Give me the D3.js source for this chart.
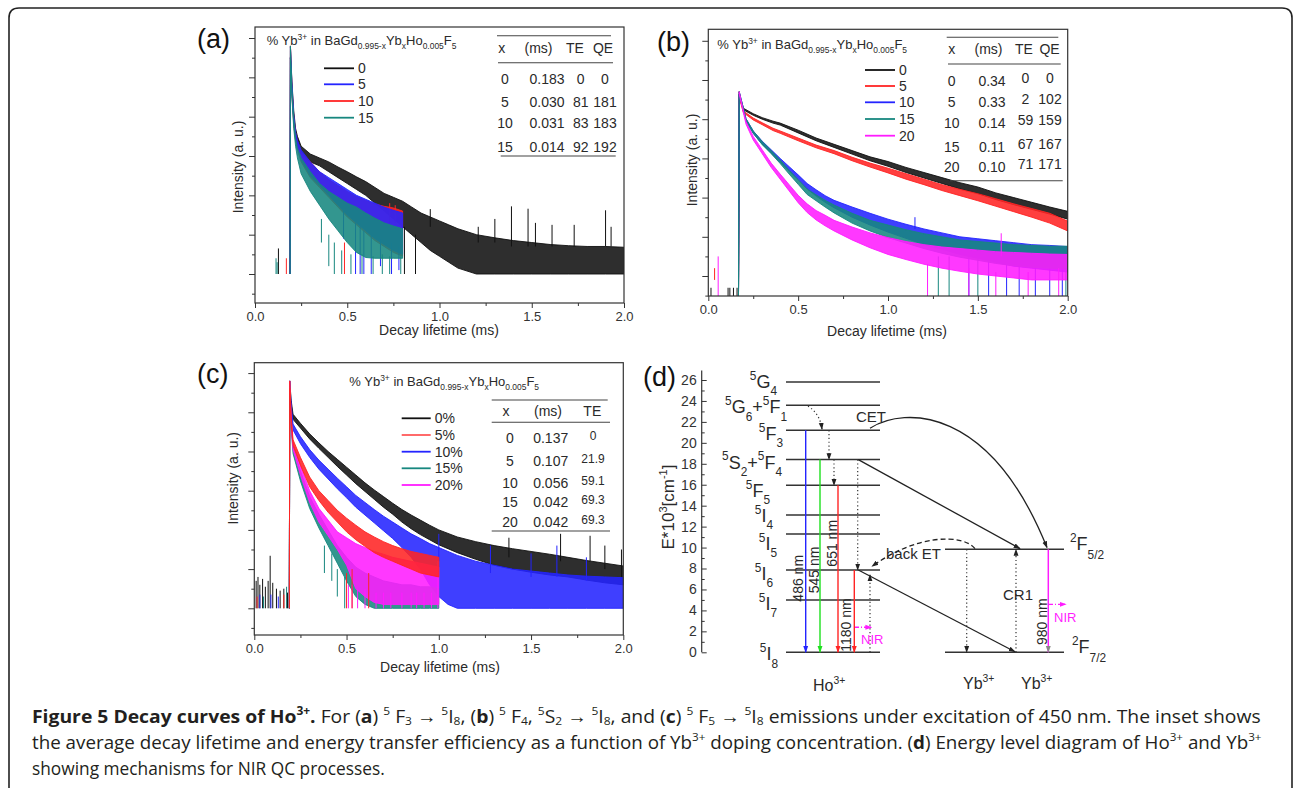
<!DOCTYPE html>
<html>
<head>
<meta charset="utf-8">
<script src="https://cdn.jsdelivr.net/npm/d3@7"></script>
<style>
  body { margin: 0; background: #fff; }
  svg { display: block; font-family: "Liberation Sans", Arial, sans-serif; }
</style>
</head>
<body>
<script>
// ---- data (t in ms, intensity as log10 counts: [t, low, high] of the noise band) ----
const xMajor = [0, 0.5, 1, 1.5, 2];
const xTickLabels = ["0.0", "0.5", "1.0", "1.5", "2.0"];
const xMinor = [0.25, 0.75, 1.25, 1.75];
const yMajor = [0, 1, 2, 3, 4, 5, 6];
const yMinor = [-0.5, 0.5, 1.5, 2.5, 3.5, 4.5, 5.5];

// panel (a)
const a0 = [[0.19,0,0],[0.192,5.5,5.78],[0.20,4.7,4.9],[0.21,3.95,4.15],[0.22,3.55,3.7],[0.23,3.3,3.5],[0.25,3.05,3.25],[0.30,2.85,3.05],[0.35,2.75,2.95],[0.40,2.6,2.85],[0.45,2.45,2.72],[0.50,2.3,2.6],[0.55,2.15,2.47],[0.60,2.0,2.35],[0.65,1.8,2.2],[0.70,1.6,2.05],[0.75,1.4,1.95],[0.80,1.2,1.85],[0.85,1.0,1.7],[0.90,0.8,1.55],[0.95,0.6,1.45],[1.00,0.45,1.35],[1.05,0.3,1.25],[1.10,0.15,1.15],[1.20,0,1.0],[1.30,0,0.92],[1.40,0,0.85],[1.50,0,0.8],[1.60,0,0.75],[1.70,0,0.72],[1.80,0,0.7],[1.90,0,0.7],[2.00,0,0.68]];
const a0Spikes = [[0.127,0,0.65],[0.81,0,1.2],[0.87,0,1.0],[0.95,1.2,1.65],[1.21,0.8,1.2],[1.30,0.8,1.4],[1.39,0.7,1.72],[1.48,0.7,1.66],[1.52,0.7,1.3],[1.61,0.7,1.25],[1.73,0.7,1.25],[1.90,0.7,1.62],[1.93,0.7,1.2]];
const a5 = [[0.19,0,0],[0.192,5.5,5.78],[0.20,4.6,4.85],[0.21,3.85,4.05],[0.22,3.45,3.6],[0.23,3.2,3.4],[0.25,2.9,3.15],[0.30,2.5,2.85],[0.35,2.25,2.6],[0.40,2.0,2.45],[0.45,1.75,2.3],[0.50,1.5,2.15],[0.55,1.3,2.0],[0.60,1.1,1.9],[0.65,0.9,1.8],[0.70,0.75,1.7],[0.75,0.6,1.62],[0.80,0.5,1.55]];
const a5Spikes = [[0.48,0.9,1.6],[0.545,0,1.3],[0.57,0,1.2],[0.59,0,1.1],[0.63,0,1.0],[0.68,0.2,0.9],[0.74,0,0.8],[0.78,0.1,0.7]];
const a10 = [[0.19,0,0],[0.192,5.5,5.8],[0.20,4.55,4.8],[0.21,3.8,4.0],[0.22,3.4,3.58],[0.23,3.15,3.35],[0.25,2.85,3.1],[0.30,2.45,2.85],[0.35,2.2,2.6],[0.40,1.95,2.4],[0.45,1.7,2.25],[0.50,1.45,2.1],[0.55,1.25,1.97],[0.60,1.05,1.87],[0.65,0.85,1.78],[0.70,0.7,1.72],[0.75,0.55,1.68],[0.80,0.45,1.6]];
const a10Spikes = [[0.17,0,0.4],[0.485,0,0.8],[0.73,1.2,1.8],[0.76,1.3,1.75]];
const a15 = [[0.19,0,0],[0.192,5.5,5.8],[0.20,4.5,4.75],[0.21,3.7,3.95],[0.22,3.25,3.45],[0.23,2.95,3.2],[0.25,2.55,2.95],[0.30,2.1,2.6],[0.35,1.75,2.3],[0.40,1.4,2.1],[0.45,1.1,1.95],[0.50,0.8,1.8],[0.55,0.55,1.7],[0.60,0.42,1.55],[0.65,0.4,1.42],[0.70,0.4,1.3],[0.75,0.4,1.22],[0.80,0.4,1.15]];
const a15Spikes = [[0.114,0,0.4],[0.12,0,0.3],[0.36,0.8,1.4],[0.40,0.2,1.0],[0.43,0,0.8],[0.47,0,0.6],[0.52,0,0.5],[0.58,0,0.5],[0.64,0,0.45],[0.69,0,0.5],[0.73,0,0.45],[0.79,0,0.45]];

// panel (b)
const b0 = [[0.168,-0.55,-0.55],[0.172,4.64,4.7],[0.18,4.47,4.52],[0.195,4.24,4.28],[0.25,4.1,4.14],[0.30,4.0,4.04],[0.36,3.9,3.95],[0.40,3.85,3.9],[0.50,3.65,3.72],[0.60,3.45,3.52],[0.70,3.28,3.36],[0.80,3.11,3.2],[0.90,2.94,3.04],[1.00,2.8,2.92],[1.10,2.64,2.77],[1.20,2.5,2.64],[1.30,2.36,2.51],[1.40,2.22,2.38],[1.50,2.1,2.27],[1.60,1.95,2.12],[1.70,1.82,2.0],[1.80,1.7,1.88],[1.90,1.58,1.76],[2.00,1.45,1.65]];
const b0Spikes = [[0.11,-0.55,-0.3],[0.12,-0.55,-0.3],[0.14,-0.55,-0.3],[0.16,-0.55,-0.3],[0.015,-0.55,-0.3]];
const b5 = [[0.168,-0.55,-0.55],[0.172,4.64,4.7],[0.18,4.42,4.47],[0.195,4.17,4.21],[0.25,3.98,4.03],[0.30,3.86,3.91],[0.36,3.71,3.77],[0.40,3.64,3.7],[0.50,3.45,3.52],[0.60,3.27,3.34],[0.70,3.12,3.2],[0.80,2.94,3.03],[0.90,2.78,2.88],[1.00,2.63,2.75],[1.10,2.47,2.61],[1.20,2.33,2.47],[1.30,2.18,2.33],[1.40,2.05,2.21],[1.50,1.92,2.1],[1.60,1.78,1.97],[1.70,1.64,1.84],[1.80,1.5,1.72],[1.90,1.35,1.6],[2.00,1.15,1.4]];
const b5Spikes = [[0.035,-0.1,0.2]];
const b10 = [[0.168,-0.55,-0.55],[0.172,4.64,4.7],[0.19,4.32,4.38],[0.21,3.95,4.01],[0.25,3.64,3.7],[0.30,3.36,3.44],[0.35,3.14,3.22],[0.40,2.9,3.0],[0.45,2.68,2.79],[0.50,2.46,2.58],[0.55,2.22,2.36],[0.60,2.04,2.2],[0.65,1.88,2.05],[0.70,1.74,1.93],[0.80,1.5,1.76],[0.90,1.3,1.6],[1.00,1.12,1.45],[1.10,0.96,1.32],[1.20,0.8,1.2],[1.30,0.68,1.1],[1.40,0.55,1.0],[1.50,0.45,0.95],[1.60,0.35,0.9],[1.70,0.25,0.85],[1.80,0.2,0.8],[1.90,0.15,0.78],[2.00,0.1,0.75]];
const b10Spikes = [[1.15,1.2,1.5],[1.45,-0.55,0.5],[1.56,-0.55,0.4],[1.66,-0.55,0.3],[1.73,-0.55,0.3],[1.82,-0.55,0.3],[1.9,-0.55,0.2],[1.97,-0.55,0.2]];
const b15 = [[0.168,-0.55,-0.55],[0.172,4.64,4.7],[0.19,4.32,4.38],[0.21,3.95,4.01],[0.25,3.64,3.7],[0.30,3.35,3.43],[0.35,3.12,3.2],[0.40,2.87,2.96],[0.45,2.6,2.7],[0.50,2.34,2.46],[0.55,2.08,2.22],[0.60,1.92,2.07],[0.65,1.76,1.93],[0.70,1.61,1.81],[0.80,1.35,1.6],[0.90,1.15,1.42],[1.00,0.98,1.3],[1.10,0.84,1.18],[1.20,0.7,1.08],[1.30,0.58,1.0],[1.40,0.48,0.92],[1.50,0.4,0.88],[1.60,0.32,0.84],[1.70,0.26,0.8],[1.80,0.22,0.78],[1.90,0.2,0.76],[2.00,0.18,0.76]];
const b15Spikes = [[1.28,-0.55,0.5],[1.34,-0.55,0.5],[1.5,-0.55,0.45],[1.99,-0.55,0.5]];
const b20 = [[0.172,4.64,4.7],[0.19,4.27,4.33],[0.21,3.87,3.94],[0.25,3.47,3.56],[0.30,3.12,3.22],[0.35,2.77,2.88],[0.40,2.47,2.6],[0.45,2.17,2.33],[0.50,1.87,2.06],[0.55,1.62,1.84],[0.60,1.43,1.67],[0.65,1.28,1.55],[0.70,1.15,1.42],[0.80,0.92,1.25],[0.90,0.72,1.1],[1.00,0.55,0.98],[1.10,0.42,0.88],[1.20,0.3,0.8],[1.30,0.2,0.74],[1.40,0.12,0.7],[1.50,0.05,0.66],[1.60,0.0,0.62],[1.70,-0.05,0.6],[1.80,-0.1,0.58],[1.90,-0.1,0.56],[2.00,-0.1,0.55]];
const b20Spikes = [[0.055,-0.55,0.5],[1.22,-0.55,0.3],[1.45,-0.55,0.2],[1.6,-0.55,0.1],[1.63,0.5,1.09],[1.78,-0.55,0.1],[1.95,-0.55,0.2]];

// panel (c)
const c0 = [[0.19,0,0],[0.192,5.6,5.8],[0.20,5.1,5.3],[0.21,4.82,4.95],[0.25,4.6,4.72],[0.30,4.32,4.45],[0.35,4.08,4.22],[0.40,3.85,4.0],[0.45,3.62,3.8],[0.50,3.4,3.6],[0.55,3.18,3.4],[0.60,2.98,3.2],[0.65,2.78,3.02],[0.70,2.58,2.85],[0.75,2.4,2.68],[0.80,2.2,2.52],[0.85,2.03,2.38],[0.90,1.88,2.25],[0.95,1.75,2.12],[1.00,1.62,2.0],[1.10,1.42,1.82],[1.20,1.25,1.7],[1.30,1.1,1.6],[1.40,1.0,1.52],[1.50,0.92,1.45],[1.60,0.85,1.38],[1.70,0.8,1.3],[1.80,0.72,1.22],[1.90,0.65,1.15],[2.00,0.6,1.08]];
const c0Spikes = [[0.01,0,0.7],[0.02,0,0.8],[0.03,0,0.6],[0.045,0,0.75],[0.06,0,0.55],[0.075,0,0.7],[0.086,0,1.34],[0.1,0,0.65],[0.12,0,0.5],[0.14,0,0.45],[0.16,0,0.5],[0.18,0,0.4],[1.38,1.3,1.8],[1.66,1.2,1.9],[1.82,1.2,1.85],[1.9,1.0,1.6],[1.99,0.8,1.5]];
const c5 = [[0.19,0,0],[0.192,5.6,5.8],[0.20,4.7,4.9],[0.21,4.15,4.3],[0.25,3.65,3.85],[0.30,3.1,3.35],[0.35,2.75,3.0],[0.40,2.45,2.75],[0.45,2.2,2.5],[0.50,1.95,2.3],[0.55,1.75,2.12],[0.60,1.58,1.95],[0.65,1.42,1.82],[0.70,1.3,1.7],[0.75,1.2,1.6],[0.80,1.1,1.52],[0.85,1.0,1.45],[0.90,0.9,1.4],[0.95,0.85,1.35],[1.00,0.8,1.3]];
const c5Spikes = [[0.015,0,0.3],[0.16,0,0.35],[0.5,0,0.9],[0.53,0,1.0],[0.62,0,0.9]];
const c10 = [[0.19,0,0],[0.192,5.6,5.8],[0.20,5.0,5.2],[0.21,4.55,4.7],[0.25,4.2,4.38],[0.30,3.85,4.05],[0.35,3.55,3.78],[0.40,3.3,3.55],[0.45,3.05,3.32],[0.50,2.82,3.1],[0.55,2.58,2.88],[0.60,2.38,2.7],[0.65,2.18,2.52],[0.70,1.98,2.35],[0.75,1.78,2.2],[0.80,1.55,2.05],[0.85,1.3,1.9],[0.90,1.0,1.78],[0.95,0.6,1.65],[1.00,0.3,1.55],[1.05,0.1,1.45],[1.10,0,1.35],[1.20,0,1.2],[1.30,0,1.1],[1.40,0,1.0],[1.50,0,0.95],[1.60,0,0.9],[1.70,0,0.85],[1.80,0,0.82],[1.90,0,0.8],[2.00,0,0.78]];
const c10Spikes = [[0.03,0,0.35],[0.09,0,0.35],[0.13,0,0.3],[1.0,1.2,1.9],[1.28,0.9,1.6],[1.5,0.8,1.4],[1.64,0.8,1.6],[1.8,0.7,1.3]];
const c15 = [[0.19,0,0],[0.192,5.6,5.8],[0.20,4.6,4.8],[0.21,3.95,4.12],[0.25,3.25,3.5],[0.30,2.55,2.85],[0.35,2.05,2.4],[0.40,1.6,2.0],[0.45,1.15,1.6],[0.50,0.7,1.3],[0.55,0.3,1.05],[0.60,0.1,0.9],[0.65,0,0.8],[0.70,0,0.7],[0.75,0,0.65],[0.80,0,0.6],[0.85,0,0.6],[0.90,0,0.55],[0.95,0,0.55],[1.00,0,0.5]];
const c15Spikes = [[0.05,0,0.3],[0.175,0,0.55],[0.38,0.9,1.6],[0.42,0.7,1.4],[0.45,0.3,1.0],[0.49,0,0.8]];
const c20 = [[0.192,5.6,5.8],[0.20,4.65,4.85],[0.21,4.05,4.2],[0.25,3.4,3.65],[0.30,2.7,3.0],[0.35,2.2,2.55],[0.40,1.85,2.25],[0.45,1.5,1.95],[0.50,1.1,1.8],[0.55,0.5,1.65],[0.60,0.3,1.55],[0.65,0.15,1.45],[0.70,0.1,1.38],[0.75,0.1,1.3],[0.80,0.1,1.25],[0.85,0.1,1.2],[0.90,0.1,1.15],[0.95,0.1,1.1],[1.00,0.1,1.05]];
const c20Spikes = [[0.51,0,0.6],[0.53,0,0.6],[0.56,0,0.5],[0.6,0,0.5],[0.66,0,0.4],[0.7,0,0.4],[0.74,0,0.4],[0.8,0,0.4],[0.85,0,0.4],[0.88,0,0.4],[0.92,0,0.4],[0.96,0,0.4],[0.995,0,1.2]];

// legends and inset tables
const legendA = ["0", "5", "10", "15"];
const legendB = ["0", "5", "10", "15", "20"];
const legendC = ["0%", "5%", "10%", "15%", "20%"];
const tableAHead = ["x", "(ms)", "TE", "QE"];
const tableARows = [["0","0.183","0","0"],["5","0.030","81","181"],["10","0.031","83","183"],["15","0.014","92","192"]];
const tableBHead = ["x", "(ms)", "TE", "QE"];
const tableBRows = [["0","0.34","0","0"],["5","0.33","2","102"],["10","0.14","59","159"],["15","0.11","67","167"],["20","0.10","71","171"]];
const tableCHead = ["x", "(ms)", "TE"];
const tableCRows = [["0","0.137","0"],["5","0.107","21.9"],["10","0.056","59.1"],["15","0.042","69.3"],["20","0.042","69.3"]];
const titleSegs = [["% Yb"],["3+","sup"],[" in BaGd"],["0.995-x","sub"],["Yb"],["x","sub"],["Ho"],["0.005","sub"],["F"],["5","sub"]];

// panel (d): energy levels (10^3 cm^-1)
const eTicks = [0, 2, 4, 6, 8, 10, 12, 14, 16, 18, 20, 22, 24, 26];
const eMinor = [1, 3, 5, 7, 9, 11, 13, 15, 17, 19, 21, 23, 25];
const hoLevelE = [0, 5.0, 7.86, 11.3, 13.1, 15.95, 18.4, 21.2, 23.6, 25.8];
const hoLevelLabels = [
  [["5","sup"],["I"],["8","sub"]],
  [["5","sup"],["I"],["7","sub"]],
  [["5","sup"],["I"],["6","sub"]],
  [["5","sup"],["I"],["5","sub"]],
  [["5","sup"],["I"],["4","sub"]],
  [["5","sup"],["F"],["5","sub"]],
  [["5","sup"],["S"],["2","sub"],["+"],["5","sup"],["F"],["4","sub"]],
  [["5","sup"],["F"],["3","sub"]],
  [["5","sup"],["G"],["6","sub"],["+"],["5","sup"],["F"],["1","sub"]],
  [["5","sup"],["G"],["4","sub"]]
];
const ybLevelE = [0, 9.83];
const ybLevelLabels = [[["2","sup"],["F"],["7/2","sub"]], [["2","sup"],["F"],["5/2","sub"]]];
const emitFromE = [21.2, 18.4, 15.95, 7.86];
const emitLabels = ["486 nm", "545 nm", "651 nm", "1180 nm"];

// caption
const captionLines = [
  [["Figure 5 Decay curves of Ho","b"],["3+","bsup"],[".","b"],[" For ("],["a","b"],[") "],["5","sup"],[" F"],["3","sub"],[" \u2192 "],["5","sup"],["I"],["8","sub"],[", ("],["b","b"],[") "],["5","sup"],[" F"],["4","sub"],[", "],["5","sup"],["S"],["2","sub"],[" \u2192 "],["5","sup"],["I"],["8","sub"],[", and ("],["c","b"],[") "],["5","sup"],[" F"],["5","sub"],[" \u2192 "],["5","sup"],["I"],["8","sub"],[" emissions under excitation of 450 nm. The inset shows"]],
  [["the average decay lifetime and energy transfer efficiency as a function of Yb"],["3+","sup"],[" doping concentration. ("],["d","b"],[") Energy level diagram of Ho"],["3+","sup"],[" and Yb"],["3+","sup"]],
  [["showing mechanisms for NIR QC processes."]]
];

// ---- colours ----
const cBlack = "#111", cBlue = "#2424ff", cRed = "#ff2424", cTeal = "#17877f", cMag = "#ff1cff", cGreen = "#1ee01e";
const ink = "#2a2a2a";

const svg = d3.select("body").append("svg").attr("width", 1293).attr("height", 788);
const defs = svg.append("defs");

// outer rounded border
svg.append("path")
  .attr("d", "M9,795 V18 Q9,8 19,8 H1282 Q1292,8 1292,18 V795")
  .attr("fill", "none").attr("stroke", "#222").attr("stroke-width", 1.6);

function richText(sel, x, y, segs, size, o = {}) {
  const t = sel.append("text").attr("x", x).attr("y", y).attr("font-size", size);
  const small = size * (o.small || 0.65);
  const supD = -(o.sup || 0.42) * size, subD = (o.sub || 0.3) * size;
  let cur = 0;
  segs.forEach(([str, k = ""]) => {
    const isSup = k.endsWith("sup"), isSub = k === "sub";
    const off = isSup ? supD : isSub ? subD : 0;
    const sp = t.append("tspan").attr("dy", off - cur).text(str);
    if (isSup || isSub) sp.attr("font-size", small);
    if (k.startsWith("b")) sp.attr("font-weight", "bold");
    cur = off;
  });
  return t;
}

function drawDecayPanel(p) {
  const x = d3.scaleLinear().domain([0, 2]).range([p.left, p.right]);
  const y = d3.scaleLinear().domain(p.vDomain).range([p.bottom, p.top]);
  const g = svg.append("g");

  defs.append("clipPath").attr("id", p.id).append("rect")
    .attr("x", p.left).attr("y", p.top)
    .attr("width", p.right - p.left).attr("height", p.bottom - p.top);

  const plot = g.append("g").attr("clip-path", `url(#${p.id})`);
  const area = d3.area().x(d => x(d[0])).y0(d => y(d[1])).y1(d => y(d[2]));
  p.series.forEach(s => {
    plot.append("path")
      .attr("d", area(s.data))
      .attr("fill", s.color).attr("fill-opacity", 0.88)
      .attr("stroke", s.color).attr("stroke-width", 0.9)
      .attr("stroke-linejoin", "round");
    plot.append("g").attr("stroke", s.color).attr("stroke-width", 1)
      .selectAll("line").data(s.spikes).join("line")
      .attr("x1", d => x(d[0])).attr("x2", d => x(d[0]))
      .attr("y1", d => y(d[1])).attr("y2", d => y(d[2]));
  });

  g.append("rect")
    .attr("x", p.left).attr("y", p.top)
    .attr("width", p.right - p.left).attr("height", p.bottom - p.top)
    .attr("fill", "none").attr("stroke", "#333").attr("stroke-width", 1.2);

  const styleAxis = a => a.attr("color", "#333").attr("font-size", 13)
    .attr("font-family", "Liberation Sans, Arial, sans-serif")
    .call(a => a.select(".domain").remove());

  g.append("g").attr("transform", `translate(0,${p.bottom})`)
    .call(d3.axisBottom(x).tickValues(xMajor).tickFormat((d, i) => xTickLabels[i]).tickSize(5).tickPadding(4))
    .call(styleAxis);
  g.append("g").attr("transform", `translate(0,${p.bottom})`)
    .call(d3.axisBottom(x).tickValues(xMinor).tickFormat("").tickSize(3))
    .call(styleAxis);
  g.append("g").attr("transform", `translate(${p.left},0)`)
    .call(d3.axisLeft(y).tickValues(yMajor).tickFormat("").tickSize(6))
    .call(styleAxis);
  g.append("g").attr("transform", `translate(${p.left},0)`)
    .call(d3.axisLeft(y).tickValues(yMinor).tickFormat("").tickSize(3))
    .call(styleAxis);

  g.append("text").attr("x", p.xTitle[0]).attr("y", p.xTitle[1])
    .attr("text-anchor", "middle").attr("font-size", 14).attr("fill", ink)
    .text("Decay lifetime (ms)");
  g.append("text")
    .attr("transform", `translate(${p.yTitle[0]},${p.yTitle[1]}) rotate(-90)`)
    .attr("text-anchor", "middle").attr("dy", "0.35em")
    .attr("font-size", 14).attr("fill", ink)
    .text("Intensity (a. u.)");
  g.append("text").attr("x", p.tag[0]).attr("y", p.tag[1])
    .attr("font-size", 27).attr("fill", "#111").text(p.tagText);

  richText(g, p.title[0], p.title[1], titleSegs, 13).attr("fill", ink);

  // legend
  const lg = g.append("g");
  p.legend.labels.forEach((lab, i) => {
    const ly = p.legend.ys[i];
    lg.append("line").attr("x1", p.legend.x1).attr("x2", p.legend.x2)
      .attr("y1", ly).attr("y2", ly)
      .attr("stroke", p.legend.colors[i]).attr("stroke-width", 1.8);
    lg.append("text").attr("x", p.legend.x2 + 4).attr("y", ly + 5)
      .attr("font-size", 14).attr("fill", ink).text(lab);
  });

  // inset table
  const t = p.table;
  const tg = g.append("g").attr("fill", ink).attr("text-anchor", "middle");
  t.head.forEach((h, j) => {
    tg.append("text").attr("x", t.headX[j]).attr("y", t.headY).attr("font-size", 14).text(h);
  });
  t.rows.forEach((row, i) => {
    row.forEach((v, j) => {
      tg.append("text").attr("x", t.colX[j]).attr("y", t.rowY[i] + (t.colDy[j] || 0))
        .attr("font-size", t.colSize[j] || 14).text(v);
    });
  });
  t.lines.forEach(([x1, x2, ly]) => {
    tg.append("line").attr("x1", x1).attr("x2", x2).attr("y1", ly).attr("y2", ly)
      .attr("stroke", "#444").attr("stroke-width", 1.1);
  });
}

drawDecayPanel({
  id: "clipA", left: 255, right: 624, top: 27, bottom: 303, vDomain: [-0.737, 6.28],
  tagText: "(a)", tag: [197, 47.5], xTitle: [439, 335], yTitle: [238, 167], title: [266.7, 45],
  series: [
    { data: a0, spikes: a0Spikes, color: cBlack },
    { data: a10, spikes: a10Spikes, color: cRed },
    { data: a5, spikes: a5Spikes, color: cBlue },
    { data: a15, spikes: a15Spikes, color: cTeal }
  ],
  legend: { labels: legendA, colors: [cBlack, cBlue, cRed, cTeal], x1: 324, x2: 354, ys: [68.3, 84.3, 101, 117.7] },
  table: {
    head: tableAHead, rows: tableARows, headX: [501.7, 538.5, 575, 603], headY: 53,
    colX: [505, 547, 580.7, 605], colDy: [0, 0, 0, 0], colSize: [14, 14, 14, 14],
    rowY: [84, 106.7, 128.3, 152.3],
    lines: [[497, 611, 35.7], [498, 613, 62.7], [500.7, 615.7, 156]]
  }
});

drawDecayPanel({
  id: "clipB", left: 708.3, right: 1067.7, top: 29.3, bottom: 296, vDomain: [-0.51, 6.293],
  tagText: "(b)", tag: [657, 51], xTitle: [887, 336], yTitle: [691.7, 160], title: [717.3, 49],
  series: [
    { data: b0, spikes: b0Spikes, color: cBlack },
    { data: b5, spikes: b5Spikes, color: cRed },
    { data: b10, spikes: b10Spikes, color: cBlue },
    { data: b15, spikes: b15Spikes, color: cTeal },
    { data: b20, spikes: b20Spikes, color: cMag }
  ],
  legend: { labels: legendB, colors: [cBlack, cRed, cBlue, cTeal, cMag], x1: 865, x2: 895, ys: [70, 86, 102.3, 119, 135.7] },
  table: {
    head: tableBHead, rows: tableBRows, headX: [951.7, 988.5, 1024, 1049.5], headY: 54.3,
    colX: [951.7, 992, 1025.5, 1050], colDy: [0, 0, -3, -3], colSize: [14, 14, 14, 14],
    rowY: [85.7, 106.7, 128.3, 151.7, 171.7],
    lines: [[946.7, 1058.3, 37.3], [948, 1060.7, 64], [950, 1062.7, 180.7]]
  }
});

drawDecayPanel({
  id: "clipC", left: 254.3, right: 623.3, top: 362.7, bottom: 635, vDomain: [-0.681, 6.265],
  tagText: "(c)", tag: [197, 383], xTitle: [440, 672], yTitle: [233.3, 478.3], title: [349.3, 386],
  series: [
    { data: c0, spikes: c0Spikes, color: cBlack },
    { data: c10, spikes: c10Spikes, color: cBlue },
    { data: c15, spikes: c15Spikes, color: cTeal },
    { data: c20, spikes: c20Spikes, color: cMag },
    { data: c5, spikes: c5Spikes, color: cRed }
  ],
  legend: { labels: legendC, colors: [cBlack, "#ff5a5a", cBlue, cTeal, cMag], x1: 401.7, x2: 430.7, ys: [418.3, 435, 451.7, 468.3, 485] },
  table: {
    head: tableCHead, rows: tableCRows, headX: [506, 548, 592.3], headY: 416,
    colX: [510, 550.7, 593], colDy: [0, 0, -3], colSize: [14, 14, 12],
    rowY: [443, 466, 488, 507, 527],
    lines: [[491.7, 607.7, 400], [491.7, 610, 422.3], [491.7, 610, 531]]
  }
});

// ---- panel (d): energy level diagram ----
function marker(id, color) {
  defs.append("marker").attr("id", id)
    .attr("viewBox", "0 0 10 10").attr("refX", 9).attr("refY", 5)
    .attr("markerWidth", 7).attr("markerHeight", 7)
    .attr("markerUnits", "userSpaceOnUse").attr("orient", "auto")
    .append("path").attr("d", "M0,1.5 L10,5 L0,8.5 Z").attr("fill", color);
}
marker("ahK", "#222"); marker("ahB", cBlue); marker("ahG", cGreen);
marker("ahR", cRed); marker("ahM", cMag); marker("ahGr", "#888");

const yE = d3.scaleLinear().domain([0, 26]).range([652.3, 380]);
const dg = svg.append("g");

const eAxis = dg.append("g").attr("transform", "translate(701.7,0)")
  .call(d3.axisLeft(yE).tickValues(eTicks).tickSizeInner(-5).tickSizeOuter(0).tickPadding(5))
  .attr("color", "#333").attr("font-size", 14).attr("font-family", "Liberation Sans, Arial, sans-serif");
eAxis.select(".domain").remove();
dg.append("g").attr("transform", "translate(701.7,0)")
  .call(d3.axisLeft(yE).tickValues(eMinor).tickSizeInner(-3).tickSizeOuter(0).tickFormat(""))
  .attr("color", "#333").call(a => a.select(".domain").remove());
dg.append("line").attr("x1", 701.7).attr("x2", 701.7)
  .attr("y1", yE(0)).attr("y2", yE(26.9)).attr("stroke", "#333").attr("stroke-width", 1.2);

richText(dg, 0, 0, [["E*10"], ["3", "sup"], ["[cm"], ["-1", "sup"], ["]"]], 17)
  .attr("transform", "translate(674,507) rotate(-90)").attr("text-anchor", "middle").attr("fill", ink);
dg.append("text").attr("x", 643).attr("y", 386).attr("font-size", 27).attr("fill", "#111").text("(d)");

// levels
const hoLabelX = [778, 777, 773, 777, 773, 770, 782, 783, 787, 777];
const hoLabelDy = [8, 10, 10, 16, 6.7, 11.4, 9, 10, 8.3, 6];
dg.append("g").selectAll("line").data(hoLevelE).join("line")
  .attr("x1", 786).attr("x2", 880).attr("y1", d => yE(d)).attr("y2", d => yE(d))
  .attr("stroke", "#333").attr("stroke-width", 1.5);
hoLevelE.forEach((e, i) => {
  richText(dg, hoLabelX[i], yE(e) + hoLabelDy[i], hoLevelLabels[i], 18, { small: 0.66, sup: 0.45, sub: 0.4 })
    .attr("text-anchor", "end").attr("fill", ink);
});
dg.append("g").selectAll("line").data(ybLevelE).join("line")
  .attr("x1", 945).attr("x2", 1064).attr("y1", d => yE(d)).attr("y2", d => yE(d))
  .attr("stroke", "#333").attr("stroke-width", 1.5);
const ybLabelX = [1072, 1070];
ybLevelE.forEach((e, i) => {
  richText(dg, ybLabelX[i], yE(e) + 1, ybLevelLabels[i], 18, { small: 0.66, sup: 0.45, sub: 0.5 }).attr("fill", ink);
});

// radiative transitions
const emitX = [805.7, 820, 838, 854.3];
const emitColor = [cBlue, cGreen, cRed, cRed];
const emitMark = ["ahB", "ahG", "ahR", "ahR"];
const emitLabelPos = [[798.3, 578.3], [814.3, 570], [831.7, 543.3], [845.7, 625]];
emitFromE.forEach((e, i) => {
  dg.append("line").attr("x1", emitX[i]).attr("x2", emitX[i])
    .attr("y1", yE(e)).attr("y2", yE(0))
    .attr("stroke", emitColor[i]).attr("stroke-width", 1.4)
    .attr("marker-end", `url(#${emitMark[i]})`);
  dg.append("text")
    .attr("transform", `translate(${emitLabelPos[i][0]},${emitLabelPos[i][1]}) rotate(-90)`)
    .attr("text-anchor", "middle").attr("dy", "0.35em").attr("font-size", 14).attr("fill", ink)
    .text(emitLabels[i]);
});
dg.append("line").attr("x1", 1048.3).attr("x2", 1048.3).attr("y1", yE(9.83)).attr("y2", yE(0))
  .attr("stroke", cMag).attr("stroke-width", 1.5).attr("marker-end", "url(#ahGr)");
dg.append("text").attr("transform", "translate(1041.7,621.7) rotate(-90)")
  .attr("text-anchor", "middle").attr("dy", "0.35em").attr("font-size", 14).attr("fill", ink).text("980 nm");

// non-radiative / energy transfer (dotted)
const dotted = [[829, 21.2, 18.4], [834, 18.4, 15.95], [857.7, 18.4, 7.86], [966.7, 9.83, 0], [870, 0, 7.4], [1016, 0, 9.83]];
dotted.forEach(([xx, e1, e2]) => {
  dg.append("line").attr("x1", xx).attr("x2", xx).attr("y1", yE(e1)).attr("y2", yE(e2))
    .attr("stroke", "#333").attr("stroke-width", 1.2).attr("stroke-dasharray", "1.2,2.6")
    .attr("marker-end", "url(#ahK)");
});
const p1 = d3.path();
p1.moveTo(808, yE(23.5)); p1.quadraticCurveTo(820, yE(22.8), 822, yE(21.3));
dg.append("path").attr("d", p1.toString()).attr("fill", "none").attr("stroke", "#333")
  .attr("stroke-width", 1.2).attr("stroke-dasharray", "1.2,2.6").attr("marker-end", "url(#ahK)");

// CET and cross-relaxation arrows
const cet = d3.path();
cet.moveTo(870, yE(21.4));
cet.bezierCurveTo(905, yE(23.5), 990, yE(23.5), 1047, yE(10.0));
dg.append("path").attr("d", cet.toString()).attr("fill", "none").attr("stroke", "#222")
  .attr("stroke-width", 1.3).attr("marker-end", "url(#ahK)");
dg.append("line").attr("x1", 858.3).attr("y1", yE(18.4)).attr("x2", 1020).attr("y2", yE(9.9))
  .attr("stroke", "#222").attr("stroke-width", 1.3).attr("marker-end", "url(#ahK)");
dg.append("line").attr("x1", 858.3).attr("y1", yE(7.86)).attr("x2", 1015).attr("y2", yE(0.05))
  .attr("stroke", "#222").attr("stroke-width", 1.3).attr("marker-end", "url(#ahK)");
const back = d3.path();
back.moveTo(975, yE(9.9));
back.bezierCurveTo(962, yE(11.4), 915, yE(11.2), 872, yE(8.2));
dg.append("path").attr("d", back.toString()).attr("fill", "none").attr("stroke", "#222")
  .attr("stroke-width", 1.3).attr("stroke-dasharray", "5,3").attr("marker-end", "url(#ahK)");

// NIR dash-dot arrows
[[855, 871.7, 2.39], [1049, 1066, 4.58]].forEach(([x1, x2, e]) => {
  dg.append("line").attr("x1", x1).attr("x2", x2).attr("y1", yE(e)).attr("y2", yE(e))
    .attr("stroke", cMag).attr("stroke-width", 1.3).attr("stroke-dasharray", "4,2,1,2")
    .attr("marker-end", "url(#ahM)");
});
dg.append("text").attr("x", 861).attr("y", 644).attr("font-size", 13).attr("fill", cMag).text("NIR");
dg.append("text").attr("x", 1054).attr("y", 622).attr("font-size", 13).attr("fill", cMag).text("NIR");

dg.append("text").attr("x", 856).attr("y", 422).attr("font-size", 15).attr("fill", ink).text("CET");
dg.append("text").attr("x", 886).attr("y", 559).attr("font-size", 15).attr("fill", ink).text("back ET");
dg.append("text").attr("x", 1003).attr("y", 600).attr("font-size", 15).attr("fill", ink).text("CR1");

richText(dg, 813, 691, [["Ho"], ["3+", "sup"]], 16).attr("fill", ink);
richText(dg, 963, 689, [["Yb"], ["3+", "sup"]], 16).attr("fill", ink);
richText(dg, 1021, 689, [["Yb"], ["3+", "sup"]], 16).attr("fill", ink);

// ---- caption ----
const capY = [723, 749, 775];
const capW = [1230, 1231, 353];
captionLines.forEach((segs, i) => {
  const t = richText(svg, 0, 0, segs, 18.5, { small: 0.62, sup: 0.45, sub: 0.12 })
    .attr("font-family", "'Open Sans', 'Noto Sans', sans-serif").attr("fill", "#231f20");
  const w = t.node().getBBox().width;
  t.attr("transform", `translate(32,${capY[i]}) scale(${capW[i] / w},1)`);
});
</script>
</body>
</html>
